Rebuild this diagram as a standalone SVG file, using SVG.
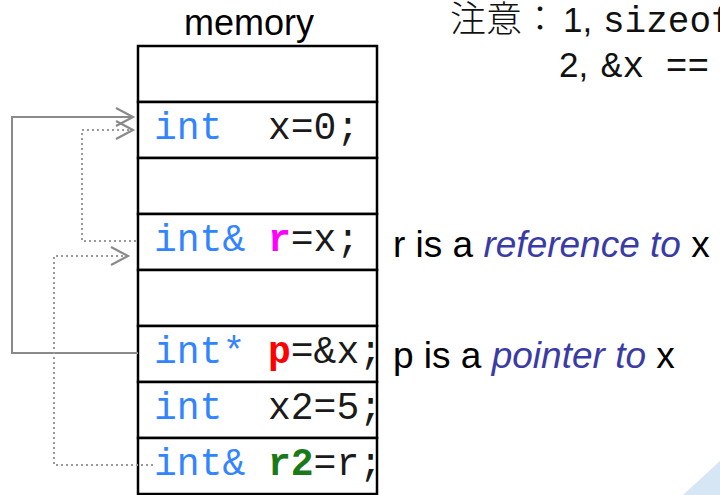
<svg xmlns="http://www.w3.org/2000/svg" width="720" height="495" viewBox="0 0 720 495">
  <style>
    .cell { fill: #ffffff; stroke: #000000; stroke-width: 2.5; }
    .code { font-family: "Liberation Mono", "Courier New", monospace; font-size: 38px; fill: #1a1a1a; }
    .kw { fill: #3385ff; }
    .b { font-weight: bold; }
    .sans { font-family: "Liberation Sans", Arial, sans-serif; font-size: 36px; fill: #000000; }
    .label { font-size: 37px; }
    .em { font-style: italic; fill: #3b3ba6; }
    .note { font-family: "Liberation Sans", "Noto Sans CJK JP", sans-serif; font-size: 35px; fill: #111111; }
    .cjk { font-family: "Noto Sans CJK JP", sans-serif; font-size: 36px; font-weight: 300; }
    .mono { font-family: "Liberation Mono", "Courier New", monospace; font-size: 36px; }
    .solid { fill: none; stroke: #8a8a8a; stroke-width: 2; }
    .dotted { fill: none; stroke: #9a9a9a; stroke-width: 2; stroke-dasharray: 2 3; }
  </style>
  <defs>
    <marker id="chev" markerUnits="userSpaceOnUse" markerWidth="24" markerHeight="24" viewBox="-20 -12 24 24" refX="0" refY="0" orient="auto" overflow="visible">
      <path d="M -17 -9 L 0 0 L -17 9" fill="none" stroke="#8a8a8a" stroke-width="2.2" stroke-dasharray="none"/>
    </marker>
  </defs>

  <rect width="720" height="495" fill="#ffffff"/>
  <!-- corner accent -->
  <polygon points="683,495 720,461 720,495" fill="#d6e6f4"/>

  <text class="sans" x="249" y="35" text-anchor="middle">memory</text>

  <!-- memory cells -->
  <g id="cell-empty-1"><rect class="cell" x="138" y="46" width="239" height="56"/></g>
  <g id="cell-x">
    <rect class="cell" x="138" y="102" width="239" height="56"/>
    <text class="code" y="139"><tspan class="kw" x="154">int</tspan><tspan x="268">x=0;</tspan></text>
  </g>
  <g id="cell-empty-2"><rect class="cell" x="138" y="158" width="239" height="56"/></g>
  <g id="cell-r">
    <rect class="cell" x="138" y="214" width="239" height="56"/>
    <text class="code" y="251"><tspan class="kw" x="154">int&amp;</tspan><tspan x="268" class="b" fill="#ff00ff">r</tspan><tspan>=x;</tspan></text>
  </g>
  <g id="cell-empty-3"><rect class="cell" x="138" y="270" width="239" height="56"/></g>
  <g id="cell-p">
    <rect class="cell" x="138" y="326" width="239" height="56"/>
    <text class="code" y="363"><tspan class="kw" x="154">int*</tspan><tspan x="268" class="b" fill="#ff0000">p</tspan><tspan>=&amp;x;</tspan></text>
  </g>
  <g id="cell-x2">
    <rect class="cell" x="138" y="382" width="239" height="56"/>
    <text class="code" y="419"><tspan class="kw" x="154">int</tspan><tspan x="268">x2=5;</tspan></text>
  </g>
  <g id="cell-r2">
    <rect class="cell" x="138" y="438" width="239" height="56"/>
    <text class="code" y="475"><tspan class="kw" x="154">int&amp;</tspan><tspan x="268" class="b" fill="#1a7a1a">r2</tspan><tspan>=r;</tspan></text>
  </g>

  <!-- connectors -->
  <g id="connectors">
    <path class="solid" d="M 138 353 H 12 V 117 H 133" marker-end="url(#chev)"/>
    <path class="dotted" d="M 136 241 H 82 V 130 H 133" marker-end="url(#chev)"/>
    <path class="dotted" d="M 153 465 H 54 V 256 H 128" marker-end="url(#chev)"/>
  </g>

  <!-- annotations -->
  <text class="sans label" x="393" y="257" xml:space="preserve">r is a <tspan class="em">reference to</tspan> x</text>
  <text class="sans label" x="393" y="368" xml:space="preserve">p is a <tspan class="em">pointer to</tspan> x</text>

  <g id="notes">
    <text class="note" y="32"><tspan class="cjk" x="450">注意：</tspan><tspan x="563">1,</tspan><tspan class="mono" x="603">sizeof</tspan></text>
    <text class="note" y="77"><tspan x="559">2,</tspan><tspan class="mono" x="601" xml:space="preserve">&amp;x ==</tspan></text>
  </g>
</svg>
